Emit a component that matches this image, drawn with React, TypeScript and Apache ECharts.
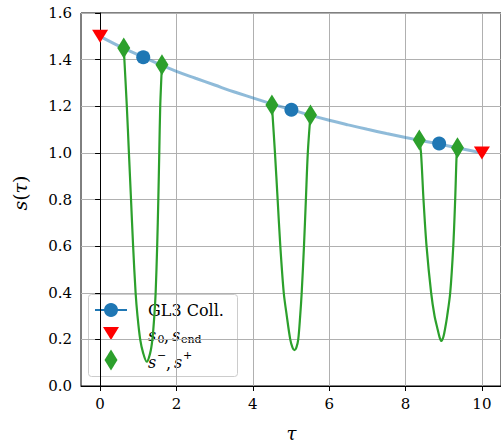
import React, { useEffect, useRef } from "react";
import * as echarts from "echarts";

// Smooth interpolant through collocation states (light blue curve)
const curveTau = [0, 0.5, 1, 1.5, 2, 2.5, 3, 3.5, 4, 4.5, 5, 5.5, 6, 6.5, 7, 7.5, 8, 8.5, 9, 9.5, 10];
const curveS = [1.5, 1.458, 1.42, 1.384, 1.35, 1.32, 1.291, 1.262, 1.236, 1.21, 1.186, 1.162, 1.14, 1.12, 1.101, 1.083, 1.066, 1.05, 1.034, 1.017, 1.0];

// GL3 collocation points
const collTau = [1.13, 5.01, 8.88];
const collS = [1.41, 1.185, 1.04];

// s0, s_end
const endTau = [0, 10];
const endS = [1.5, 1.0];

// s-, s+
const pmTau = [0.62, 1.62, 4.5, 5.51, 8.36, 9.36];
const pmS = [1.45, 1.378, 1.205, 1.163, 1.055, 1.022];

// Green excursions between s- and s+
const u1Tau = [0.62, 0.7, 0.755, 0.81, 0.865, 0.93, 0.98, 1.05, 1.13, 1.22, 1.31, 1.37, 1.42, 1.455, 1.495, 1.525, 1.55, 1.575, 1.62];
const u1S = [1.45, 1.2, 1.0, 0.8, 0.6, 0.4, 0.3, 0.2, 0.14, 0.104, 0.14, 0.2, 0.3, 0.4, 0.6, 0.8, 1.0, 1.2, 1.378];
const u2Tau = [4.5, 4.58, 4.65, 4.72, 4.81, 4.89, 4.98, 5.04, 5.09, 5.14, 5.19, 5.24, 5.28, 5.34, 5.39, 5.44, 5.51];
const u2S = [1.205, 1.0, 0.8, 0.6, 0.4, 0.3, 0.2, 0.165, 0.154, 0.165, 0.2, 0.3, 0.4, 0.6, 0.8, 1.0, 1.163];
const u3Tau = [8.36, 8.405, 8.47, 8.55, 8.67, 8.76, 8.83, 8.89, 8.94, 8.99, 9.04, 9.09, 9.17, 9.25, 9.3, 9.34, 9.36];
const u3S = [1.055, 1.0, 0.8, 0.6, 0.4, 0.3, 0.25, 0.21, 0.193, 0.21, 0.25, 0.3, 0.4, 0.6, 0.8, 1.0, 1.022];

const xTicks = [0, 2, 4, 6, 8, 10];

const zip = (a: number[], b: number[]) => a.map((v, i) => [v, b[i]]);

const FONT = "DejaVu Serif";
const BLUE = "#1f77b4";
const GREEN = "#2ca02c";
const RED = "#ff0000";

export default function App() {
  const ref = useRef<HTMLDivElement>(null);
  useEffect(() => {
    if (!ref.current) return;
    const chart = echarts.init(ref.current, undefined, { renderer: "svg" });
    const greenLine = (d: number[][]) => ({
      type: "line",
      data: d,
      showSymbol: false,
      smooth: 0.3,
      lineStyle: { color: GREEN, width: 2.2 },
      z: 3,
      silent: true,
    });
    const t = (text: string, x: number, y: number, size: number, italic = false) => ({
      type: "text",
      x,
      y,
      style: {
        text,
        fontFamily: FONT,
        fontSize: size,
        fontStyle: italic ? "italic" : "normal",
        fill: "#000",
        align: "left",
        verticalAlign: "middle",
      },
    });
    chart.setOption({
      animation: false,
      grid: {
        left: 81,
        top: 13,
        width: 421,
        height: 373,
        show: true,
        borderColor: "#000",
        borderWidth: 1,
        backgroundColor: "transparent",
      },
      xAxis: {
        type: "value",
        min: -0.5,
        max: 10.5,
        axisLine: { show: true, lineStyle: { color: "#000", width: 1 } },
        axisTick: { show: true, length: 5, lineStyle: { color: "#000" }, customValues: xTicks },
        axisLabel: { color: "#000", fontFamily: FONT, fontSize: 15, margin: 10, customValues: xTicks },
        splitLine: { show: true, lineStyle: { color: "#b0b0b0", width: 1 } },
      },
      yAxis: {
        type: "value",
        min: 0,
        max: 1.6,
        interval: 0.2,
        axisLine: { show: true, lineStyle: { color: "#000", width: 1 } },
        axisTick: { show: true, length: 5, lineStyle: { color: "#000" } },
        axisLabel: {
          color: "#000",
          fontFamily: FONT,
          fontSize: 15,
          margin: 9,
          formatter: (v: number) => v.toFixed(1),
        },
        splitLine: { show: true, lineStyle: { color: "#b0b0b0", width: 1 } },
      },
      series: [
        {
          type: "line",
          data: zip(curveTau, curveS),
          showSymbol: false,
          smooth: 0.4,
          lineStyle: { color: "rgba(31,119,180,0.5)", width: 3 },
          z: 2,
          silent: true,
        },
        greenLine(zip(u1Tau, u1S)),
        greenLine(zip(u2Tau, u2S)),
        greenLine(zip(u3Tau, u3S)),
        {
          type: "scatter",
          name: "GL3 Coll.",
          data: zip(collTau, collS),
          symbol: "circle",
          symbolSize: 14,
          itemStyle: { color: BLUE, opacity: 1 },
          z: 4,
        },
        {
          type: "scatter",
          data: zip(endTau, endS),
          symbol: "triangle",
          symbolRotate: 180,
          symbolSize: [16, 13],
          itemStyle: { color: RED, opacity: 1 },
          z: 5,
        },
        {
          type: "scatter",
          data: zip(pmTau, pmS),
          symbol: "diamond",
          symbolSize: [13, 21],
          itemStyle: { color: GREEN, opacity: 1 },
          z: 6,
        },
      ],
      graphic: [
        {
          type: "text",
          x: 291.5,
          y: 433,
          z: 100,
          style: {
            text: "τ",
            fontFamily: FONT,
            fontSize: 18,
            fontStyle: "italic",
            fill: "#000",
            align: "center",
            verticalAlign: "middle",
          },
        },
        {
          type: "text",
          x: 20,
          y: 193,
          rotation: Math.PI / 2,
          z: 100,
          style: {
            text: "{i|s}{n|(}{i|τ}{n|)}",
            align: "center",
            verticalAlign: "middle",
            rich: {
              i: { fontFamily: FONT, fontSize: 19, fontStyle: "italic", fill: "#000" },
              n: { fontFamily: FONT, fontSize: 19, fill: "#000" },
            },
          },
        },
        {
          type: "group",
          z: 100,
          children: [
            {
              type: "rect",
              shape: { x: 88.5, y: 294.5, width: 149, height: 82, r: 3 },
              style: { fill: "rgba(255,255,255,0.8)", stroke: "#cccccc", lineWidth: 1 },
            },
            {
              type: "line",
              shape: { x1: 95, y1: 310, x2: 127, y2: 310 },
              style: { stroke: BLUE, lineWidth: 2 },
            },
            { type: "circle", shape: { cx: 111, cy: 310, r: 7 }, style: { fill: BLUE } },
            {
              type: "polygon",
              shape: { points: [[103, 327], [119, 327], [111, 340]] },
              style: { fill: RED },
            },
            {
              type: "polygon",
              shape: { points: [[111, 349.5], [117.5, 360], [111, 370.5], [104.5, 360]] },
              style: { fill: GREEN },
            },
            t("GL3 Coll.", 148, 310, 16),
            t("s", 148, 335, 16, true),
            t("0", 157.5, 339.5, 11),
            t(",", 164, 336, 16),
            t("s", 172, 335, 16, true),
            t("end", 181, 339.5, 11),
            t("s", 148, 362, 16, true),
            t("−", 157, 355, 11),
            t(",", 166, 363, 16),
            t("s", 174, 362, 16, true),
            t("+", 183, 355, 11),
          ],
        },
      ],
    });
    return () => chart.dispose();
  }, []);
  return (
    <div
      ref={ref}
      style={{ position: "absolute", left: 0, top: 0, width: 501, height: 445 }}
    />
  );
}
